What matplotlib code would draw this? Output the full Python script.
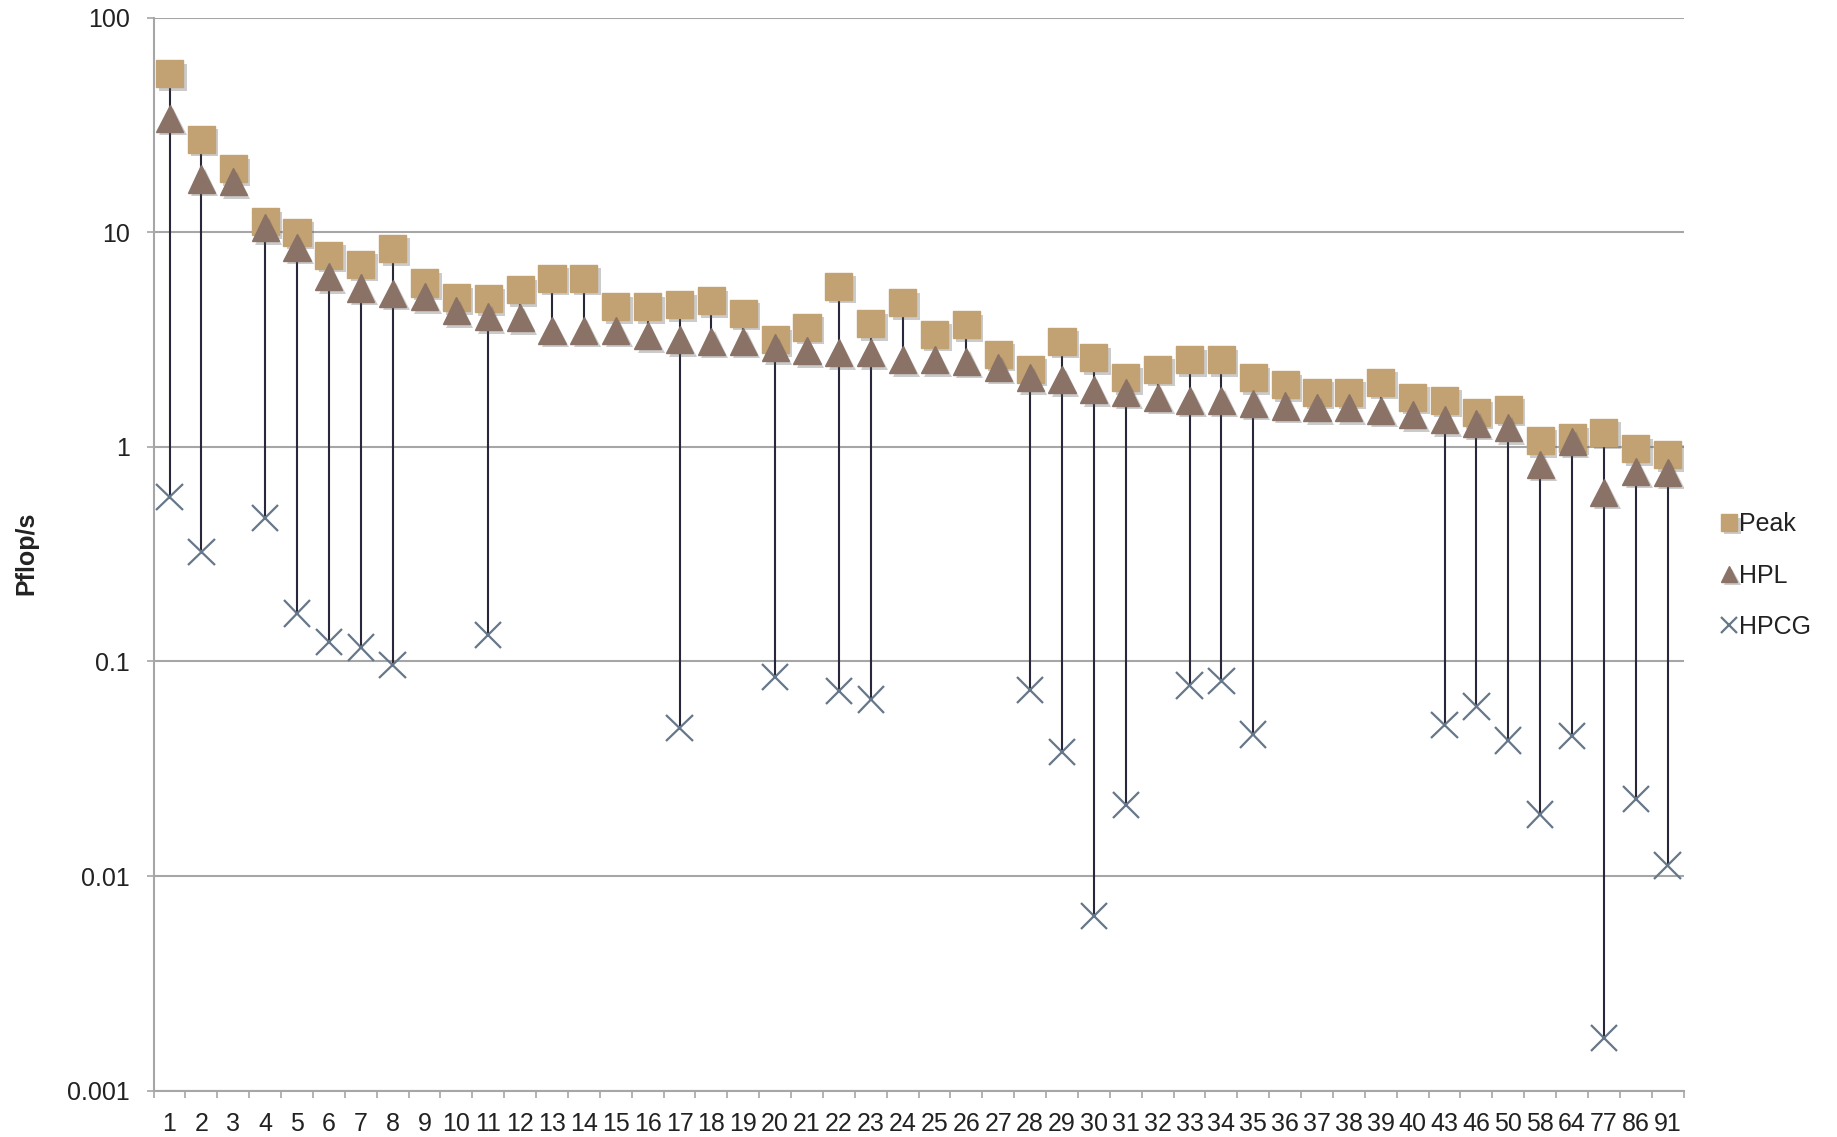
import numpy as np
import matplotlib
matplotlib.use("Agg")
import matplotlib.pyplot as plt
import matplotlib.patheffects as pe
from matplotlib.ticker import NullLocator, FixedLocator

# ranks on the list
ranks = ["1", "2", "3", "4", "5", "6", "7", "8", "9", "10", "11", "12", "13", "14",
         "15", "16", "17", "18", "19", "20", "21", "22", "23", "24", "25", "26", "27",
         "28", "29", "30", "31", "32", "33", "34", "35", "36", "37", "38", "39", "40",
         "43", "46", "50", "58", "64", "77", "86", "91"]

# Pflop/s
peak = [54.7, 27.1, 19.8, 11.2, 10.0, 7.8, 7.1, 8.4, 5.8, 4.95, 4.9, 5.4, 6.1, 6.1,
        4.5, 4.5, 4.6, 4.8, 4.2, 3.15, 3.6, 5.6, 3.75, 4.7, 3.35, 3.7, 2.7,
        2.3, 3.1, 2.6, 2.1, 2.3, 2.55, 2.55, 2.1, 1.95, 1.8, 1.8, 2.0, 1.7,
        1.65, 1.45, 1.5, 1.07, 1.1, 1.17, 0.98, 0.92]
hpl = [34.0, 17.7, 17.2, 10.5, 8.5, 6.2, 5.5, 5.2, 5.0, 4.3, 4.05, 4.0, 3.5, 3.5,
       3.5, 3.3, 3.15, 3.1, 3.1, 2.9, 2.8, 2.75, 2.75, 2.55, 2.55, 2.5, 2.35,
       2.1, 2.05, 1.85, 1.8, 1.7, 1.65, 1.65, 1.6, 1.55, 1.52, 1.52, 1.48, 1.41,
       1.34, 1.29, 1.23, 0.83, 1.06, 0.615, 0.77, 0.76]
hpcg = [0.585, 0.324, None, 0.467, 0.167, 0.123, 0.116, 0.096, None, None, 0.133, None, None, None,
        None, None, 0.049, None, None, 0.0845, None, 0.0727, 0.0665, None, None, None, None,
        0.0736, 0.0378, 0.0065, 0.0215, None, 0.0774, 0.0813, 0.0456, None, None, None, None, None,
        0.0505, 0.0617, 0.0429, 0.0194, 0.0451, 0.00176, 0.0229, 0.0112]

x = np.arange(len(ranks))
hpcg_arr = np.array([np.nan if v is None else v for v in hpcg])
table = np.vstack([peak, hpl, hpcg_arr])
hi = np.nanmax(table, axis=0)
lo = np.nanmin(table, axis=0)

plt.rcParams["font.family"] = ["Liberation Sans", "DejaVu Sans"]

fig = plt.figure(figsize=(18.37, 11.37), dpi=100)
ax = fig.add_axes([0.0836, 0.0407, 0.8329, 0.9438])

shadow = [pe.SimplePatchShadow(offset=(2.5, -2.5), shadow_rgbFace="#555555", alpha=0.3), pe.Normal()]

# high-low lines
ax.vlines(x, lo, hi, color="#28283a", lw=1.5, zorder=2)

ax.plot(x, peak, ls="none", marker="s", ms=19.5, mfc="#c2a273", mec="#c2a273",
        zorder=3, label="Peak", path_effects=shadow)
ax.plot(x, hpl, ls="none", marker="^", ms=19.5, mfc="#8a7266", mec="#8a7266",
        zorder=4, label="HPL", path_effects=shadow)
ax.plot(x, hpcg_arr, ls="none", marker="x", ms=19, mew=1.6, color="#66778a",
        zorder=5, label="HPCG", path_effects=shadow)

ax.set_yscale("log")
ax.set_ylim(0.001, 100)
ax.set_xlim(-0.5, len(ranks) - 0.5)

ax.yaxis.set_major_locator(FixedLocator([0.001, 0.01, 0.1, 1, 10, 100]))
ax.yaxis.set_minor_locator(NullLocator())
ax.set_yticklabels(["0.001", "0.01", "0.1", "1", "10", "100"])
ax.grid(axis="y", color="#a6a6a6", lw=1.5, zorder=0)

ax.set_xticks(x)
ax.set_xticklabels(ranks)
ax.set_xticks(np.arange(len(ranks) + 1) - 0.5, minor=True)
ax.tick_params(axis="x", which="major", length=0, pad=15, labelsize=18, labelcolor="#222222")
ax.tick_params(axis="x", which="minor", length=5, width=1.2, color="#a6a6a6", direction="out")
ax.tick_params(axis="y", which="major", length=5, width=1.2, color="#a6a6a6", pad=12,
               labelsize=18, labelcolor="#222222")

for side in ["top", "right"]:
    ax.spines[side].set_visible(False)
for side in ["left", "bottom"]:
    ax.spines[side].set_color("#a6a6a6")
    ax.spines[side].set_linewidth(1.5)

fig.text(26 / 1837, 1 - 553 / 1137, "Pflop/s", rotation=90, ha="center", va="center",
         fontsize=18, fontweight="bold", color="#222222")

ax.legend(loc="center left", bbox_to_anchor=(1.01, 0.48), frameon=False,
          handlelength=0.6, handletextpad=0.1, labelspacing=1.1, markerscale=0.6,
          fontsize=18, labelcolor="#222222")

fig.savefig("out.png", dpi=100)
